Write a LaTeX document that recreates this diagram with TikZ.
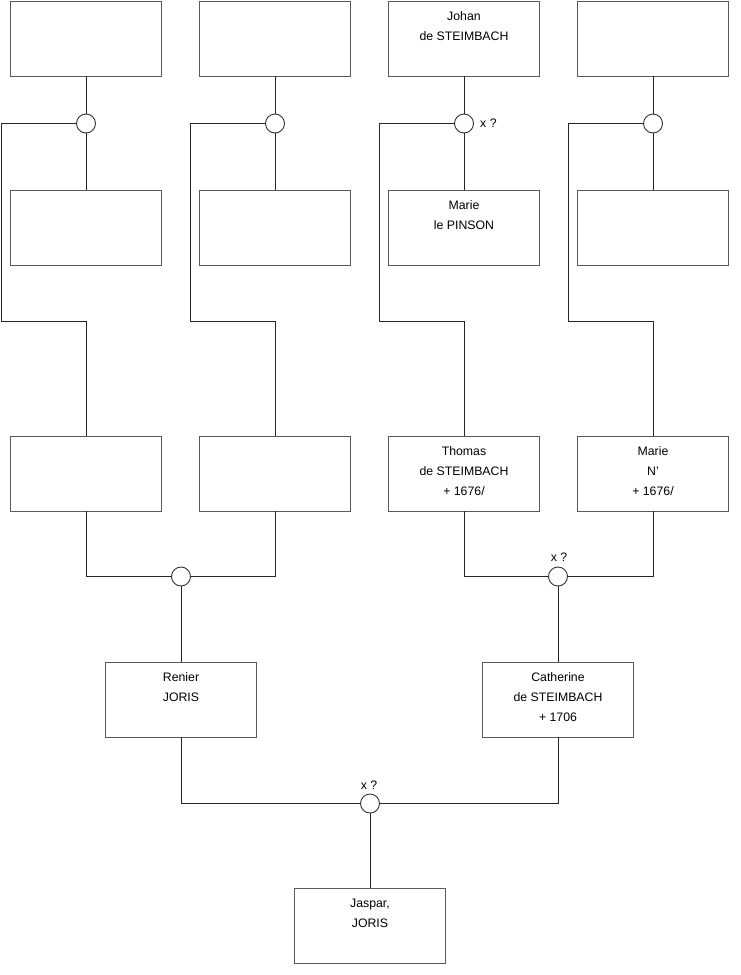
\documentclass[tikz,border=0pt]{standalone}
\usepackage{fontspec}
\setmainfont{Liberation Sans}
\begin{document}
\begin{tikzpicture}[x=1pt,y=-1pt,
 box/.style={draw=black!65, line width=0.9pt, fill=white, minimum width=151pt, minimum height=75pt, inner sep=0pt, anchor=north},
 txt/.style={anchor=north, align=center, inner sep=0pt, font=\fontsize{12.3}{20}\selectfont},
 knot/.style={circle, draw=black!80, line width=0.9pt, fill=white, minimum size=19pt, inner sep=0pt},
 link/.style={draw=black!85, line width=0.9pt},
 lbl/.style={font=\fontsize{12.3}{14}\selectfont, inner sep=0pt}]
\useasboundingbox (0,0) rectangle (740,975);
% row 1
\node[box] (a1) at (86,0.5) {};
\node[box] (a2) at (275,0.5) {};
\node[box] (a3) at (464,0.5) {};
\node[box] (a4) at (653,0.5) {};
% row 2
\node[box] (b1) at (86,189.5) {};
\node[box] (b2) at (275,189.5) {};
\node[box] (b3) at (464,189.5) {};
\node[box] (b4) at (653,189.5) {};
% row 3
\node[box] (c1) at (86,435.5) {};
\node[box] (c2) at (275,435.5) {};
\node[box] (c3) at (464,435.5) {};
\node[box] (c4) at (653,435.5) {};
% row 4
\node[box] (d1) at (181,661.5) {};
\node[box] (d2) at (558,661.5) {};
% row 5
\node[box] (e1) at (370,887.5) {};
% texts
\node[txt] (ta3) at ([yshift=-11pt]a3.north) {Johan\\de STEIMBACH};
\node[txt] (tb3) at ([yshift=-11pt]b3.north) {Marie\\le PINSON};
\node[txt] (tc3) at ([yshift=-11pt]c3.north) {Thomas\\de STEIMBACH\\+ 1676/};
\node[txt] (tc4) at ([yshift=-11pt]c4.north) {Marie\\N'\\+ 1676/};
\node[txt] (td1) at ([yshift=-11pt]d1.north) {Renier\\JORIS};
\node[txt] (td2) at ([yshift=-11pt]d2.north) {Catherine\\de STEIMBACH\\+ 1706};
\node[txt] (te1) at ([yshift=-11pt]e1.north) {Jaspar,\\JORIS};
% knots
\node[knot] (k1) at (86,123.5) {};
\node[knot] (k2) at (275,123.5) {};
\node[knot] (k3) at (464,123.5) {};
\node[knot] (k4) at (653,123.5) {};
\node[knot] (m1) at (181,576.5) {};
\node[knot] (m2) at (558,576.5) {};
\node[knot] (m3) at (370,803.5) {};
% corner coordinates
\coordinate (p1) at (1.5,321.5);
\coordinate (p2) at (190.5,321.5);
\coordinate (p3) at (379.5,321.5);
\coordinate (p4) at (568.5,321.5);
% links
\foreach \i in {1,2,3,4}{
  \draw[link] (a\i.south) -- (k\i.north);
  \draw[link] (k\i.south) -- (b\i.north);
  \draw[link] (k\i.west) -| (p\i) -| (c\i.north);
}
\draw[link] (c1.south) |- (m1.west);
\draw[link] (c2.south) |- (m1.east);
\draw[link] (m1.south) -- (d1.north);
\draw[link] (c3.south) |- (m2.west);
\draw[link] (c4.south) |- (m2.east);
\draw[link] (m2.south) -- (d2.north);
\draw[link] (d1.south) |- (m3.west);
\draw[link] (d2.south) |- (m3.east);
\draw[link] (m3.south) -- (e1.north);
% labels
\node[lbl, anchor=west] (x1) at (480,123.5) {x ?};
\node[lbl] (x2) at (559,557.5) {x ?};
\node[lbl] (x3) at (369,785.5) {x ?};
\end{tikzpicture}
\end{document}
